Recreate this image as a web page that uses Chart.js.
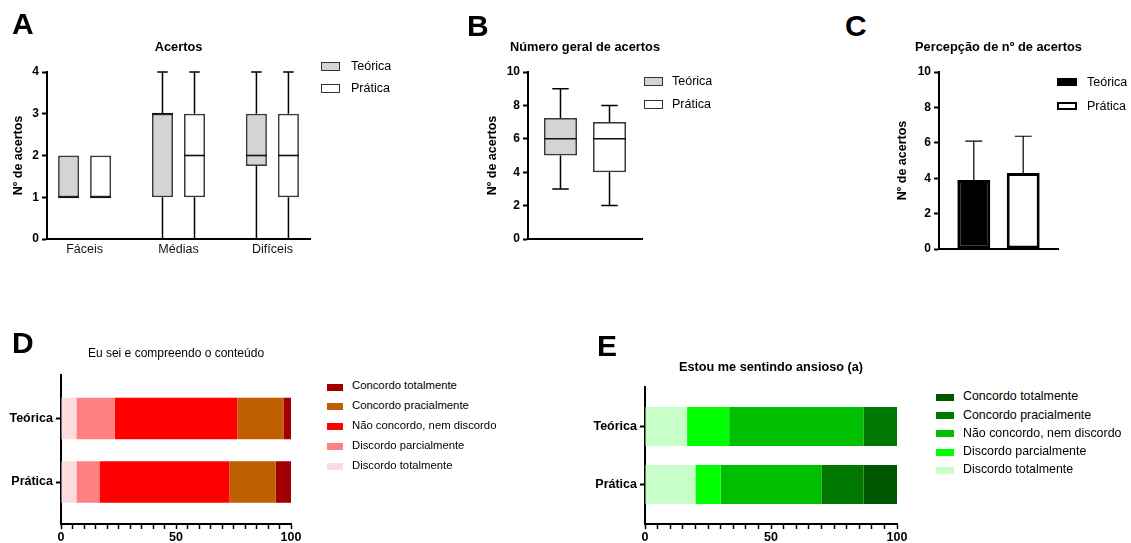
<!DOCTYPE html>
<html><head><meta charset="utf-8">
<script src="https://cdn.jsdelivr.net/npm/chart.js@4.4.1/dist/chart.umd.min.js"></script>
<style>
html,body{margin:0;padding:0;background:#fff;}
body{width:1131px;height:543px;position:relative;overflow:hidden;font-family:"Liberation Sans",Arial,sans-serif;}
.t{position:absolute;white-space:nowrap;line-height:1;color:#000;}
.sw{position:absolute;box-sizing:border-box;}
</style></head><body>
<script>
// ---------------- DATA ----------------
const boxCategories = ['Fáceis', 'Médias', 'Difíceis'];
const groupNames = ['Teórica', 'Prática'];
// five-number summaries: [min, Q1, median, Q3, max]
const acertosTeorica = [[1, 1, 1, 2, 2], [0, 1, 3, 3, 4], [0, 1.75, 2, 3, 4]];
const acertosPratica = [[1, 1, 1, 2, 2], [0, 1, 2, 3, 4], [0, 1, 2, 3, 4]];
const geralTeorica = [3, 5, 6, 7.25, 9];
const geralPratica = [2, 4, 6, 7, 8];
const percepcaoMedia = [3.9, 4.3];
const percepcaoDP = [2.2, 2.07];
const likertLevels = ['Discordo totalmente', 'Discordo parcialmente', 'Não concordo, nem discordo', 'Concordo pracialmente', 'Concordo totalmente'];
const sabeTeorica = [6.7, 16.7, 53.3, 20, 3.3];
const sabePratica = [6.7, 10, 56.6, 20, 6.7];
const ansiosoTeorica = [16.7, 16.7, 53.3, 13.3, 0];
const ansiosoPratica = [20, 10, 40, 16.7, 13.3];
const ticksA = [0, 1, 2, 3, 4];
const ticksBC = [0, 2, 4, 6, 8, 10];
const ticksPct = [0, 50, 100];
const titles = ['Acertos', 'Número geral de acertos', 'Percepção de nº de acertos', 'Eu sei e compreendo o conteúdo', 'Estou me sentindo ansioso (a)'];
const yTitle = 'Nº de acertos';

// ---------------- STYLE ----------------
const FONT = '"Liberation Sans", Arial, sans-serif';
const redColors = ['#ffdcdc', '#ff8080', '#ff0000', '#bf5f00', '#a00000'];
const greenColors = ['#c8ffc8', '#00ff00', '#00bf00', '#007700', '#005500'];
const boxFill = ['#d4d4d4', '#ffffff'];
Chart.defaults.color = '#000';
Chart.defaults.font.family = FONT;

function addText(txt, left, top, size, weight, extra) {
  const d = document.createElement('div');
  d.className = 't';
  d.textContent = txt;
  d.style.cssText += `left:${left}px;top:${top}px;font-size:${size}px;font-weight:${weight};` + (extra || '');
  document.body.appendChild(d);
  return d;
}
function centerText(txt, cx, capCenter, size, weight) {
  return addText(txt, cx - 200, capCenter - 0.49 * size, size, weight, 'width:400px;text-align:center;');
}
function swatch(left, cy, w, h, fill, border, bw) {
  const d = document.createElement('div');
  d.className = 'sw';
  d.style.cssText += `left:${left}px;top:${cy - h / 2}px;width:${w}px;height:${h}px;background:${fill};border:${bw}px solid ${border};`;
  document.body.appendChild(d);
}
function mkCanvas(left, top, w, h) {
  const c = document.createElement('canvas');
  c.width = w; c.height = h;
  c.style.cssText = `position:absolute;left:${left}px;top:${top}px;width:${w}px;height:${h}px;`;
  document.body.appendChild(c);
  return c;
}
const fixW = w => s => { s.width = w; };
const fixH = h => s => { s.height = h; };

function yValueAxis(width, max, tickVals, titlePad) {
  return {
    type: 'linear', min: 0, max: max,
    afterFit: fixW(width),
    afterBuildTicks: s => { s.ticks = tickVals.map(v => ({ value: v })); },
    border: { display: true, color: '#000', width: 2 },
    grid: { drawOnChartArea: false, drawTicks: true, tickLength: 5, tickColor: '#000', tickWidth: 2 },
    ticks: { font: { size: 12, weight: 'bold' }, padding: 3, color: '#000' },
    title: { display: true, text: yTitle, font: { size: 12.5, weight: 'bold' }, padding: { top: titlePad, bottom: 0 }, color: '#000' }
  };
}

// ---------------- PLUGINS ----------------
const boxPlugin = {
  id: 'boxWhiskers',
  afterDatasetsDraw(chart) {
    const ctx = chart.ctx, ys = chart.scales.y;
    chart.data.datasets.forEach((ds, di) => {
      const meta = chart.getDatasetMeta(di);
      meta.data.forEach((bar, i) => {
        const s = ds.stats[i];
        const half = bar.width / 2, cap = bar.width / 4;
        const px = v => ys.getPixelForValue(v);
        ctx.save();
        ctx.strokeStyle = '#000';
        ctx.lineWidth = 1.5;
        ctx.beginPath();
        if (s[4] > s[3]) {
          ctx.moveTo(bar.x, px(s[3])); ctx.lineTo(bar.x, px(s[4]));
          ctx.moveTo(bar.x - cap, px(s[4])); ctx.lineTo(bar.x + cap, px(s[4]));
        }
        if (s[0] < s[1]) {
          ctx.moveTo(bar.x, px(s[1])); ctx.lineTo(bar.x, px(s[0]));
          ctx.moveTo(bar.x - cap, px(s[0])); ctx.lineTo(bar.x + cap, px(s[0]));
        }
        ctx.stroke();
        ctx.lineWidth = 1.6;
        ctx.strokeStyle = '#111';
        ctx.beginPath();
        ctx.moveTo(bar.x - half, px(s[2])); ctx.lineTo(bar.x + half, px(s[2]));
        ctx.stroke();
        ctx.restore();
      });
    });
  }
};
const errPlugin = {
  id: 'errorBars',
  afterDatasetsDraw(chart) {
    const ctx = chart.ctx, ys = chart.scales.y;
    chart.data.datasets.forEach((ds, di) => {
      const meta = chart.getDatasetMeta(di);
      meta.data.forEach((bar, i) => {
        const top = ys.getPixelForValue(ds.data[i] + ds.sd[i]);
        ctx.save();
        ctx.strokeStyle = '#000';
        ctx.lineWidth = 1.2;
        ctx.beginPath();
        ctx.moveTo(bar.x, bar.y); ctx.lineTo(bar.x, top);
        ctx.moveTo(bar.x - 8.5, top); ctx.lineTo(bar.x + 8.5, top);
        ctx.stroke();
        ctx.restore();
      });
    });
  }
};

// ---------------- PANEL A ----------------
new Chart(mkCanvas(0, 0, 320, 270), {
  type: 'bar',
  data: {
    datasets: [acertosTeorica, acertosPratica].map((arr, k) => ({
      label: groupNames[k],
      data: arr.map((s, i) => ({ x: i, y: [s[1], s[3]] })),
      stats: arr,
      backgroundColor: boxFill[k], borderColor: '#3a3a3a', borderWidth: 1.7, borderSkipped: false,
      categoryPercentage: 0.6816, barPercentage: 0.656
    }))
  },
  options: {
    responsive: false, animation: false,
    layout: { padding: { left: 0, top: 72, right: 10, bottom: 0 } },
    plugins: { legend: { display: false }, tooltip: { enabled: false } },
    scales: {
      x: {
        type: 'linear', min: -0.4, max: 2.4, offset: false,
        afterFit: fixH(31),
        afterBuildTicks: s => { s.ticks = boxCategories.map((c, i) => ({ value: i })); },
        border: { display: true, color: '#000', width: 2 },
        grid: { display: true, offset: false, drawOnChartArea: false, drawTicks: false },
        ticks: { callback: v => boxCategories[v], font: { size: 12.5 }, padding: 3, color: '#111', maxRotation: 0, autoSkip: false }
      },
      y: yValueAxis(47, 4, ticksA, 11)
    }
  },
  plugins: [boxPlugin]
});

// ---------------- PANEL B ----------------
new Chart(mkCanvas(470, 0, 180, 260), {
  type: 'bar',
  data: {
    labels: [titles[1]],
    datasets: [geralTeorica, geralPratica].map((s, k) => ({
      label: groupNames[k],
      data: [[s[1], s[3]]],
      stats: [s],
      backgroundColor: boxFill[k], borderColor: '#3a3a3a', borderWidth: 1.7, borderSkipped: false,
      categoryPercentage: 0.86, barPercentage: 0.673
    }))
  },
  options: {
    responsive: false, animation: false,
    layout: { padding: { left: 0, top: 72, right: 8, bottom: 0 } },
    plugins: { legend: { display: false }, tooltip: { enabled: false } },
    scales: {
      x: {
        afterFit: fixH(21),
        border: { display: true, color: '#000', width: 2 },
        grid: { display: false },
        ticks: { display: false }
      },
      y: yValueAxis(58, 10, ticksBC, 15.5)
    }
  },
  plugins: [boxPlugin]
});

// ---------------- PANEL C ----------------
new Chart(mkCanvas(880, 0, 185, 270), {
  type: 'bar',
  data: {
    labels: [titles[2]],
    datasets: groupNames.map((g, k) => ({
      label: g,
      data: [percepcaoMedia[k]],
      sd: [percepcaoDP[k]],
      backgroundColor: k === 0 ? '#000000' : '#ffffff',
      borderColor: '#000', borderWidth: 3, borderSkipped: false,
      categoryPercentage: 0.83, barPercentage: 0.667
    }))
  },
  options: {
    responsive: false, animation: false,
    layout: { padding: { left: 0, top: 72, right: 7, bottom: 0 } },
    plugins: { legend: { display: false }, tooltip: { enabled: false } },
    scales: {
      x: {
        afterFit: fixH(21),
        border: { display: true, color: '#000', width: 2 },
        grid: { display: false },
        ticks: { display: false }
      },
      y: yValueAxis(59, 10, ticksBC, 15.5)
    }
  },
  plugins: [errPlugin]
});

// ---------------- PANELS D & E ----------------
function likertChart(left, top, w, h, yWidth, padTop, padRight, yMin, yMax, barPct, series, colors) {
  return new Chart(mkCanvas(left, top, w, h), {
    type: 'bar',
    data: {
      datasets: likertLevels.map((lvl, j) => ({
        label: lvl,
        data: series.map((arr, i) => ({ x: arr[j], y: i })),
        backgroundColor: colors[j], borderWidth: 0,
        categoryPercentage: 1, barPercentage: barPct
      }))
    },
    options: {
      indexAxis: 'y',
      responsive: false, animation: false,
      layout: { padding: { left: 0, top: padTop, right: padRight, bottom: 0 } },
      plugins: { legend: { display: false }, tooltip: { enabled: false } },
      scales: {
        x: {
          type: 'linear', min: 0, max: 100, stacked: true,
          afterFit: fixH(19),
          border: { display: true, color: '#000', width: 2 },
          grid: { drawOnChartArea: false, drawTicks: true, tickLength: 5, tickColor: '#000', tickWidth: 1.5 },
          ticks: { stepSize: 5, autoSkip: false, maxRotation: 0, padding: 1,
                   font: { size: 12.5, weight: 'bold' }, color: '#000',
                   callback: v => ticksPct.includes(v) ? String(v) : '' }
        },
        y: {
          type: 'linear', reverse: true, min: yMin, max: yMax, offset: false, stacked: true,
          afterFit: fixW(yWidth),
          afterBuildTicks: s => { s.ticks = groupNames.map((g, i) => ({ value: i })); },
          border: { display: true, color: '#000', width: 2 },
          grid: { drawOnChartArea: false, drawTicks: true, tickLength: 5, tickColor: '#000', tickWidth: 2, offset: false },
          ticks: { callback: v => groupNames[v], font: { size: 12.5, weight: 'bold' }, padding: 3, color: '#000', autoSkip: false }
        }
      }
    }
  });
}
likertChart(0, 330, 320, 213, 61, 45, 29, -0.685, 1.661, 0.654, [sabeTeorica, sabePratica], redColors);
likertChart(580, 330, 340, 213, 65, 57, 23, -0.681, 1.681, 0.672, [ansiosoTeorica, ansiosoPratica], greenColors);

// ---------------- TEXT: letters, titles, legends ----------------
[['A', 12, 9], ['B', 467, 11], ['C', 845, 11], ['D', 12, 328], ['E', 597, 331]].forEach(l => addText(l[0], l[1], l[2], 30, 'bold'));
centerText(titles[0], 178.5, 47, 12.8, 'bold');
centerText(titles[1], 585, 47, 12.8, 'bold');
centerText(titles[2], 998.5, 47, 12.8, 'bold');
centerText(titles[3], 176, 353, 12, 'normal');
centerText(titles[4], 771, 367, 12.7, 'bold');

// A & B legends (box plot swatches)
[[321, 351, 66, 22.5], [644, 672, 81, 23]].forEach(p => {
  groupNames.forEach((g, k) => {
    const cy = p[2] + k * p[3];
    swatch(p[0], cy, 19, 9, boxFill[k], '#333', 1);
    addText(g, p[1], cy - 0.49 * 12.5, 12.5, 'normal');
  });
});
// C legend
groupNames.forEach((g, k) => {
  const cy = 82 + k * 24;
  swatch(1057, cy, 20, 8, k === 0 ? '#000' : '#fff', '#000', k === 0 ? 0 : 2.5);
  addText(g, 1087, cy - 0.49 * 12.5, 12.5, 'normal');
});
// D & E legends (reverse order: Concordo totalmente first)
const legendOrder = likertLevels.map((l, j) => j).reverse();
legendOrder.forEach((j, r) => {
  const cyD = 386 + r * 19.9;
  swatch(327, cyD + 1, 16, 7, redColors[j], redColors[j], 0);
  addText(likertLevels[j], 352, cyD - 0.49 * 11.3, 11.3, 'normal');
  const cyE = 396.5 + r * 18.2;
  swatch(936, cyE + 1, 18, 7, greenColors[j], greenColors[j], 0);
  addText(likertLevels[j], 963, cyE - 0.49 * 12.4, 12.4, 'normal');
});
</script>
</body></html>
